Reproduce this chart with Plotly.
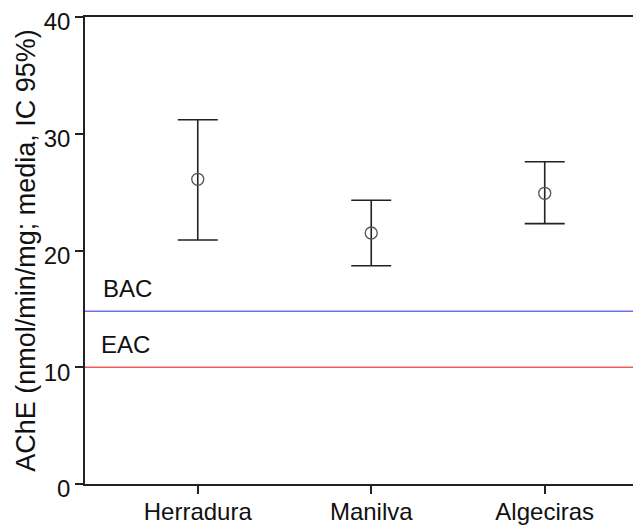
import plotly.graph_objects as go

sites = ["Herradura", "Manilva", "Algeciras"]
means = [26.1, 21.5, 24.9]
upper = [31.2, 24.3, 27.6]
lower = [20.9, 18.7, 22.3]
bac_value = 14.8
eac_value = 10.0
y_ticks = [0, 10, 20, 30, 40]

FONT = "Liberation Sans, Arial, sans-serif"

fig = go.Figure()
fig.add_trace(go.Scatter(
    x=sites, y=means, mode="markers",
    marker=dict(symbol="circle-open", size=12, color="#555555", line=dict(width=1.3)),
    error_y=dict(type="data", symmetric=False,
                 array=[u - m for u, m in zip(upper, means)],
                 arrayminus=[m - l for m, l in zip(means, lower)],
                 color="#222222", thickness=1.6, width=20),
    showlegend=False,
))

fig.add_hline(y=bac_value, line=dict(color="#6f6ff0", width=1.5))
fig.add_hline(y=eac_value, line=dict(color="#f05a5a", width=1.5))
fig.add_annotation(x=-0.555, y=bac_value, text="BAC", showarrow=False,
                   xanchor="left", yanchor="bottom", yshift=7,
                   font=dict(family=FONT, size=24, color="#111111"))
fig.add_annotation(x=-0.572, y=eac_value, text="EAC", showarrow=False,
                   xanchor="left", yanchor="bottom", yshift=7,
                   font=dict(family=FONT, size=24, color="#111111"))

fig.update_layout(
    width=633, height=518,
    margin=dict(l=77, r=0, t=9, b=42, autoexpand=False),
    paper_bgcolor="white", plot_bgcolor="white",
    font=dict(family=FONT, size=24, color="#111111"),
)
fig.update_xaxes(
    type="category", range=[-0.65, 2.555],
    showline=True, linecolor="#222222", linewidth=1.5, mirror=True,
    ticks="outside", ticklen=8, tickcolor="#222222", tickwidth=1.5,
    showgrid=False, zeroline=False, tickfont=dict(size=24), automargin=False,
    ticklabeloverflow="allow", ticklabelstandoff=-3,
)
fig.update_yaxes(
    range=[0, 40], tickvals=y_ticks,
    showline=True, linecolor="#222222", linewidth=1.5,
    ticks="outside", ticklen=8, tickcolor="#222222", tickwidth=1.5,
    showgrid=False, zeroline=False, tickfont=dict(size=24), automargin=False,
    ticklabeloverflow="allow", ticklabelshift=5,
    title=dict(text="AChE (nmol/min/mg; media, IC 95%)", font=dict(size=27), standoff=0),
)

fig.write_html("out.html")
